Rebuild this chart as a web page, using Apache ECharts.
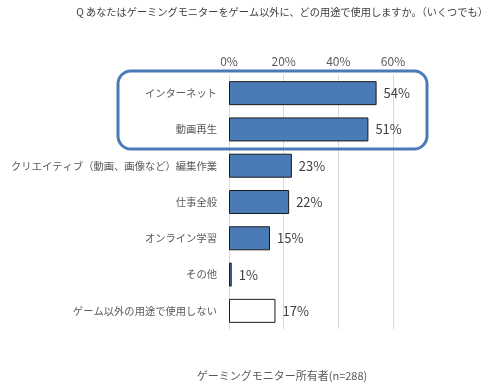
<!DOCTYPE html>
<html><head><meta charset="utf-8">
<script src="https://cdn.jsdelivr.net/npm/echarts@6/dist/echarts.min.js"></script>
<style>html,body{margin:0;padding:0;background:#fff}#c{width:501px;height:390px}</style>
</head><body><div id="c"></div>
<script>
const categories = ['インターネット','動画再生','クリエイティブ（動画、画像など）編集作業','仕事全般','オンライン学習','その他','ゲーム以外の用途で使用しない'];
const values = [54,51,23,22,15,1,17];
const tickValues = [0,20,40,60];
const titleText = 'Q あなたはゲーミングモニターをゲーム以外に、どの用途で使用しますか。（いくつでも）';
const footerText = 'ゲーミングモニター所有者(n=288)';

const FONT = '"Noto Sans CJK JP","Noto Sans",sans-serif';
const chart = echarts.init(document.getElementById('c'));
chart.setOption({
  animation:false,
  graphic:[
    {type:'text',x:282,y:7,style:{text:titleText,fontFamily:FONT,fontSize:10.2,fill:'#404040',textAlign:'center'}},
    {type:'rect',shape:{x:118,y:71,width:309,height:78,r:13},style:{fill:'none',stroke:'#4a7bb7',lineWidth:3},z:100},
    {type:'text',x:282,y:370,style:{text:footerText,fontFamily:FONT,fontSize:11,fill:'#595959',textAlign:'center'}}
  ],
  grid:{left:229,right:108,top:75,height:254},
  xAxis:{type:'value',position:'top',min:0,max:60,interval:20,
    axisLabel:{formatter:'{value}%',fontFamily:FONT,fontSize:12,color:'#595959',margin:8},
    splitLine:{lineStyle:{color:'#d9d9d9',width:1}},axisLine:{show:false},axisTick:{show:false}},
  yAxis:{type:'category',data:categories,inverse:true,
    axisLabel:{fontFamily:FONT,fontSize:10.3,color:'#595959',margin:12},
    axisLine:{show:true,lineStyle:{color:'#d9d9d9'}},axisTick:{show:false}},
  series:[{type:'bar',data:values.map((v,i)=>({value:v,itemStyle:{color:i===values.length-1?'#ffffff':'#4a7bb7'}})),
    barWidth:24,itemStyle:{borderColor:'#1a1a1a',borderWidth:1},
    label:{show:true,position:'right',distance:7,formatter:'{c}%',fontFamily:FONT,fontSize:13,color:'#404040'}}]
});
</script></body></html>
